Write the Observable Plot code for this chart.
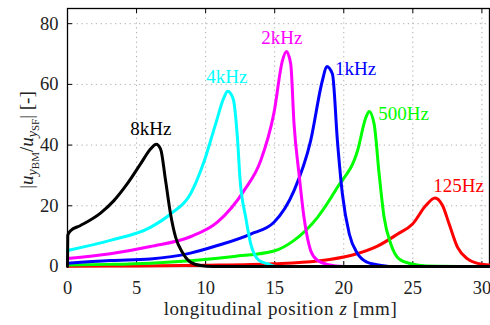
<!DOCTYPE html>
<html>
<head>
<meta charset="utf-8">
<script src="https://cdn.jsdelivr.net/npm/d3@7"></script>
<script src="https://cdn.jsdelivr.net/npm/@observablehq/plot@0.6"></script>
<style>
  html, body { margin: 0; padding: 0; background: #fff; }
  svg { display: block; }
  #chart svg, #chart svg text { font-family: 'Liberation Serif', 'DejaVu Serif', serif !important; }
</style>
</head>
<body>
<div id="chart"></div>
<script>
// ---- data ----
const seriesNames = ["125Hz", "500Hz", "1kHz", "2kHz", "4kHz", "8kHz"];
const seriesColors = ["#ff0000", "#00ff00", "#0000ff", "#ff00ff", "#00ffff", "#000000"];

const z125 = [0, 5, 10, 15, 18.1, 20.5, 22.4, 23.9, 24.98, 25.94, 26.6, 27.15, 27.63, 28.24, 28.96, 29.8, 30.55];
const v125 = [0.1, 0.2, 0.4, 0.9, 1.8, 3.6, 6.6, 10.7, 14, 20.1, 22.6, 20.1, 14, 6.3, 2.5, 0.9, 0.5];

const z500 = [0, 3, 6, 8.9, 12.05, 14.95, 16.4, 18.1, 19.54, 21, 21.6, 21.84, 22.2, 22.56, 22.92, 23.4, 24, 24.86, 26, 30.55];
const v500 = [0.5, 0.7, 1.1, 1.9, 3.3, 5.1, 8.6, 16.2, 26.1, 38.2, 49.1, 51.1, 46.9, 30.5, 16.2, 7.5, 2.5, 0.9, 0.2, 0];

const z1k = [0, 3.1, 6.0, 8.9, 10.85, 13.26, 14.95, 16.4, 17.6, 18.45, 18.77, 19.18, 19.54, 19.9, 20.4, 21, 21.7, 22.4, 23.5, 30.55];
const v1k = [1.1, 2.0, 2.5, 4.4, 6.9, 10.7, 14.6, 25, 41.4, 61.2, 65.9, 63.4, 41.4, 23.9, 10.7, 4.2, 1.4, 0.6, 0, 0];

const z2k = [0, 3.1, 6.0, 8.9, 10.85, 12.78, 13.99, 14.95, 15.56, 15.85, 16.16, 16.4, 16.76, 17.12, 17.6, 18.1, 18.8, 20, 30.55];
const v2k = [2.6, 4.2, 6.6, 9.8, 14.6, 25, 34.9, 50.7, 67.8, 70.8, 66.7, 46.9, 30.5, 16.2, 5.3, 2.0, 0.7, 0, 0];

const z4k = [0, 3.1, 6.0, 7.46, 8.9, 9.88, 10.72, 11.33, 11.6, 12.0, 12.3, 12.5, 12.9, 13.26, 13.86, 14.47, 15.2, 30.55];
const v4k = [5.3, 8.6, 12.9, 17.3, 23.9, 34.5, 46.9, 55.7, 57.7, 55.1, 42.5, 28.3, 16.2, 7.5, 2.0, 0.9, 0, 0];

const z8k = [0, 0.02, 0.22, 0.94, 2.39, 3.36, 4.32, 5.29, 6.01, 6.42, 6.74, 7.1, 7.46, 7.83, 8.31, 8.91, 9.64, 10.5, 30.55];
const v8k = [0, 10.3, 11.8, 13.5, 17.6, 21.7, 27.2, 33.8, 38.7, 40.3, 38.7, 28.3, 17.3, 9.6, 4.7, 1.4, 0.3, 0, 0];

const labelZ = [28.31, 24.33, 20.86, 15.51, 11.54, 6.03];
const labelV = [26.4, 50.2, 65.0, 75.4, 62.5, 45.3];

const xTicks = [0, 5, 10, 15, 20, 25, 30];
const yTicks = [0, 20, 40, 60, 80];

// ---- build tables ----
const zs = [z125, z500, z1k, z2k, z4k, z8k];
const vs = [v125, v500, v1k, v2k, v4k, v8k];
const rows = [];
seriesNames.forEach((name, i) => {
  zs[i].forEach((z, j) => rows.push({series: name, z, v: vs[i][j]}));
});
const labels = seriesNames.map((name, i) => ({series: name, z: labelZ[i], v: labelV[i], color: seriesColors[i]}));

const FONT = "'Liberation Serif', 'DejaVu Serif', serif";
const W = 490, H = 325, mL = 67, mR = 1, mT = 8, mB = 59;
const fw = W - mL - mR, fh = H - mT - mB;

const chart = Plot.plot({
  width: W, height: H,
  marginLeft: mL, marginRight: mR, marginTop: mT, marginBottom: mB,
  style: {fontFamily: FONT, fontSize: "18px", color: "#222", background: "#fff"},
  x: {domain: [0, 30.55]},
  y: {domain: [0, 85]},
  color: {domain: seriesNames, range: seriesColors},
  marks: [
    Plot.gridX(xTicks.slice(1), {stroke: "#b0b0b0", strokeOpacity: 1, strokeDasharray: "1.3,3.5"}),
    Plot.gridY(yTicks.slice(1), {stroke: "#b0b0b0", strokeOpacity: 1, strokeDasharray: "1.3,3.5"}),
    Plot.tickX(xTicks, {x: d => d, insetTop: fh - 5, stroke: "#000"}),
    Plot.tickX(xTicks, {x: d => d, insetBottom: fh - 5, stroke: "#000"}),
    Plot.tickY(yTicks, {y: d => d, insetRight: fw - 5, stroke: "#000"}),
    Plot.frame({stroke: "#000", strokeWidth: 1.3}),
    Plot.line(rows, {x: "z", y: "v", z: "series", stroke: "series", strokeWidth: 3, curve: "monotone-x"}),
    Plot.text(labels, {x: "z", y: "v", text: "series", fill: "color", fontSize: 19}),
    Plot.axisX({ticks: xTicks, tickSize: 0, tickPadding: 14, label: null, fontSize: 18.5}),
    Plot.axisY({ticks: yTicks, tickSize: 0, tickPadding: 9, label: null, fontSize: 18.5})
  ]
});
document.getElementById("chart").append(chart);

// ---- axis titles with math styling ----
const svg = d3.select(chart);
const xl = svg.append("text")
  .attr("x", 280.5).attr("y", 315)
  .attr("text-anchor", "middle")
  .attr("font-size", 19)
  .attr("letter-spacing", 0.6)
  .attr("fill", "#222");
xl.append("tspan").text("longitudinal position ");
xl.append("tspan").attr("font-style", "italic").text("z");
xl.append("tspan").text(" [mm]");

const yl = svg.append("text")
  .attr("transform", "translate(27,140) rotate(-90)")
  .attr("x", 0).attr("y", 6)
  .attr("text-anchor", "middle")
  .attr("font-size", 19)
  .attr("fill", "#222");
yl.append("tspan").text("|");
yl.append("tspan").attr("font-style", "italic").text("u");
yl.append("tspan").attr("font-style", "italic").attr("font-size", 14).attr("dy", 4).text("y");
yl.append("tspan").attr("font-size", 11).attr("dy", 2).text("BM");
yl.append("tspan").attr("dy", -6).text("/");
yl.append("tspan").attr("font-style", "italic").text("u");
yl.append("tspan").attr("font-style", "italic").attr("font-size", 14).attr("dy", 4).text("y");
yl.append("tspan").attr("font-size", 11).attr("dy", 2).text("SF");
yl.append("tspan").attr("dy", -6).text("| [-]");

svg.selectAll("text, tspan").style("font-family", FONT);
</script>
</body>
</html>
